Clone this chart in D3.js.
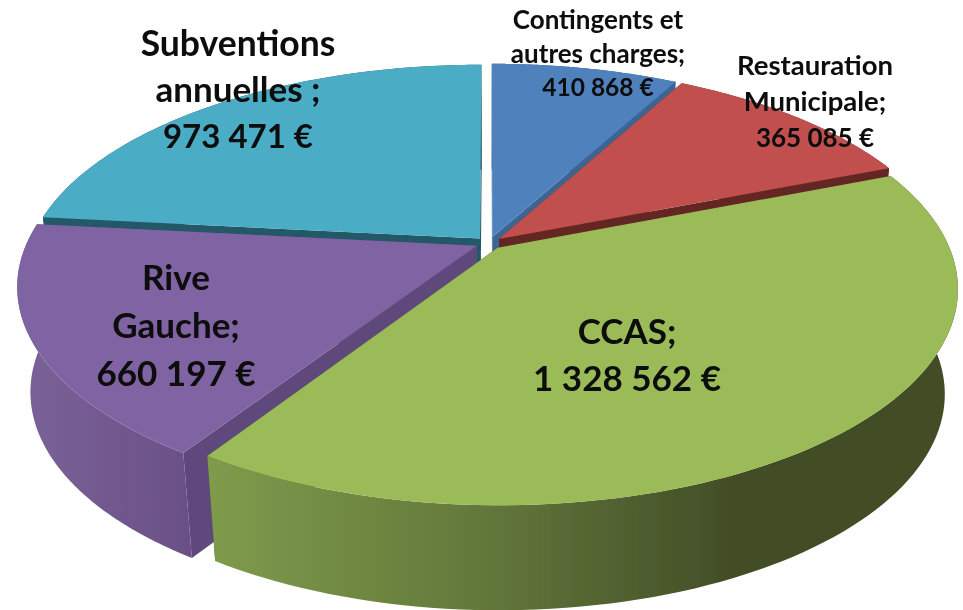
<!DOCTYPE html>
<html>
<head>
<meta charset="utf-8">
<script src="https://cdnjs.cloudflare.com/ajax/libs/d3/7.8.5/d3.min.js"></script>
<style>
  html, body { margin: 0; padding: 0; background: #fff; }
  text { font-family: Lato, "Open Sans", sans-serif; font-weight: 700; fill: #0a0a0a; text-anchor: middle; }
</style>
</head>
<body>
<div id="target"></div>
<script>
let categories = ["Contingents et autres charges", "Restauration Municipale", "CCAS", "Rive Gauche", "Subventions annuelles"];
let values = [410868, 365085, 1328562, 660197, 973471];
let labelLines = [
  ["Contingents et", "autres charges;", "410 868 €"],
  ["Restauration", "Municipale;", "365 085 €"],
  ["CCAS;", "1 328 562 €"],
  ["Rive", "Gauche;", "660 197 €"],
  ["Subventions", "annuelles ;", "973 471 €"]
];
let topColors = ["#4f81bd", "#c0504d", "#9bbb59", "#8064a2", "#4bacc6"];
let sideColors = ["#3d6594", "#632523", "#434e27", "#5f4a7c", "#215968"];
// where each label sits, and its size per line
let labelX = [598, 815, 627, 176, 238];
let labelY = [29, 75, 344, 290, 56];
let labelStep = [33.5, 36, 47, 48, 46];
let labelSize = [[26, 26, 24.5], [27.5, 27.5, 26], [35, 35], [35, 35, 35], [35.5, 35, 33]];
// order the slices are painted in, back to front
let paintOrder = [0, 4, 1, 3, 2];

let width = 963,
  height = 610,
  cx = 489,
  cy = 243,
  rx = 450,
  ry = 207.5,
  tilt = 0.186,
  explode = 0.03,
  depth = 105,
  shrink = 0.972;

let svg = d3.select("#target").append("svg")
  .attr("width", width)
  .attr("height", height)
  .style("display", "block");

let pie = d3.pie().sort(null).value(d => d);
let arcs = pie(values);

// the 3D view squeezes angles unevenly, so pie angles go through a scale
let deg = Math.PI / 180;
let viewAngle = d3.scaleLinear()
  .domain([0].concat(arcs.map(d => d.endAngle)))
  .range([0, 28.5, 68.5, 213, 276, 360].map(d => d * deg));

let defs = svg.append("defs");
let greenGrad = defs.append("linearGradient")
  .attr("id", "sideGreen")
  .attr("gradientUnits", "userSpaceOnUse")
  .attr("x1", 205).attr("x2", 730).attr("y1", 0).attr("y2", 0);
greenGrad.append("stop").attr("offset", "0%").attr("stop-color", "#7f9c4c");
greenGrad.append("stop").attr("offset", "55%").attr("stop-color", "#62763a");
greenGrad.append("stop").attr("offset", "100%").attr("stop-color", "#434e27");
let purpleGrad = defs.append("linearGradient")
  .attr("id", "sidePurple")
  .attr("gradientUnits", "userSpaceOnUse")
  .attr("x1", 20).attr("x2", 190).attr("y1", 0).attr("y2", 0);
purpleGrad.append("stop").attr("offset", "0%").attr("stop-color", "#7b6298");
purpleGrad.append("stop").attr("offset", "100%").attr("stop-color", "#6a5086");
// the reference is a slightly soft image
defs.append("filter").attr("id", "soft")
  .append("feGaussianBlur").attr("stdDeviation", 0.5);

let chart = svg.append("g").attr("filter", "url(#soft)");

function project(i, theta, r, z) {
  let mid = (viewAngle(arcs[i].startAngle) + viewAngle(arcs[i].endAngle)) / 2;
  let u = r * Math.sin(theta) + explode * Math.sin(mid);
  let v = -r * Math.cos(theta) - explode * Math.cos(mid);
  let den = 1 - tilt * v;
  let x = cx + rx * u / den;
  let y = cy + ry * v / den;
  if (z) {
    x = cx + (x - cx) * shrink;
    y = y + depth;
  }
  return [x, y];
}

function rim(i, z, reverse) {
  let a0 = viewAngle(arcs[i].startAngle),
    a1 = viewAngle(arcs[i].endAngle);
  let pts = d3.range(0, 91).map(t => project(i, a0 + (a1 - a0) * t / 90, 1, z));
  return reverse ? pts.reverse() : pts;
}

let line = d3.line();
let outerFill = [null, null, "url(#sideGreen)", "url(#sidePurple)", null];

paintOrder.forEach(i => {
  let g = chart.append("g").attr("class", "slice");
  let a0 = viewAngle(arcs[i].startAngle),
    a1 = viewAngle(arcs[i].endAngle);
  [a0, a1].forEach(a => {
    g.append("path")
      .attr("d", line([project(i, 0, 0, 0), project(i, a, 1, 0), project(i, a, 1, 1), project(i, 0, 0, 1)]) + "Z")
      .attr("fill", sideColors[i]);
  });
  g.append("path")
    .attr("d", line(rim(i, 0, false).concat(rim(i, 1, true))) + "Z")
    .attr("fill", outerFill[i] || sideColors[i]);
  g.append("path")
    .attr("d", line([project(i, 0, 0, 0)].concat(rim(i, 0, false))) + "Z")
    .attr("fill", topColors[i]);
});

chart.selectAll("g.label")
  .data(labelLines)
  .enter().append("g")
  .attr("class", "label")
  .each(function (lines, i) {
    d3.select(this).selectAll("text")
      .data(lines)
      .enter().append("text")
      .attr("x", labelX[i])
      .attr("y", (d, j) => labelY[i] + j * labelStep[i])
      .attr("font-size", (d, j) => labelSize[i][j])
      .text(d => d);
  });
</script>
</body>
</html>
